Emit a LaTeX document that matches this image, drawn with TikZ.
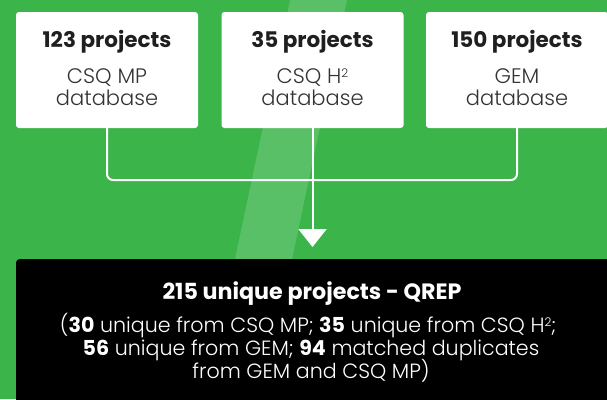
\documentclass[tikz,border=0pt]{standalone}
\usepackage{fontspec}
\setmainfont{Poppins}[UprightFont=* Light,BoldFont=* Bold]
\usepackage{tikz}
\usetikzlibrary{arrows.meta}
\definecolor{qgreen}{HTML}{3BB54A}
\begin{document}
\begin{tikzpicture}[x=1pt,y=-1pt]
                \tikzstyle{dbbox}=[fill=white,rounded corners=3pt,inner sep=0pt,minimum width=182pt,minimum height=116pt]
                \tikzstyle{count}=[anchor=base,inner sep=0pt,font=\bfseries\fontsize{21.5}{22}\selectfont,text=black!88]
                \tikzstyle{dbtext}=[anchor=base,inner sep=0pt,font=\fontsize{21}{22}\selectfont,text=black!80]
                \tikzstyle{qtext}=[anchor=base,inner sep=0pt,font=\fontsize{20.6}{22}\selectfont,text=white]
                \tikzstyle{link}=[draw=white,line width=2pt]
                \newcommand\sqtwo{\raisebox{6pt}{\fontsize{12}{12}\selectfont 2}}
                \newcommand\dbbox[5]{\node[dbbox] (#2) at (#1,70) {};%
                \node[count] (#2-n) at (#1,47) {#3};%
                \node[dbtext] (#2-a) at (#1,83) {#4};%
                \node[dbtext] (#2-b) at (#1,105) {#5};}
                \useasboundingbox (0,0) rectangle (607,399);
                \fill[qgreen] (0,0) rectangle (607,399);
                \fill[white,opacity=0.16] (290,0) -- (347,0) -- (292,259) -- (235,259) -- cycle;
                \dbbox{107}{mp}{123 projects}{CSQ MP}{database};
                \dbbox{312.5}{h2}{35 projects}{CSQ H\sqtwo}{database};
                \dbbox{517}{gem}{150 projects}{GEM}{database};
                \node[fill=black,rounded corners=3pt,anchor=north west,minimum width=640pt,minimum height=160pt] (qrep) at (16,259) {};
                \coordinate (join) at (312.5,180);
                \draw[link,rounded corners=6pt] (mp.south) |- (join) -| (gem.south);
                \draw[link,-{Triangle[width=28pt,length=18pt]},shorten >=12pt] (h2.south) -- (h2.south |- qrep.north);
                \node[qtext,font=\bfseries\fontsize{22.2}{22}\selectfont] (title) at (312,299) {215 unique projects - QREP};
                \node[qtext] (l1) at (308,332) {(\textbf{30} unique from CSQ MP; \textbf{35} unique from CSQ H\sqtwo;};
                \node[qtext] (l2) at (311,355) {\textbf{56} unique from GEM; \textbf{94} matched duplicates};
                \node[qtext] (l3) at (311,378) {from GEM and CSQ MP)};
            \end{tikzpicture}
\end{document}
